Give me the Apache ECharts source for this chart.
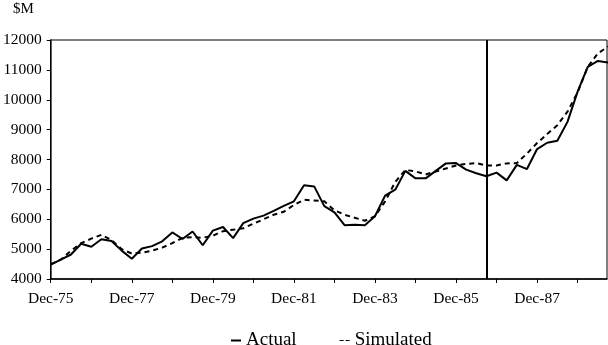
<!DOCTYPE html>
<html>
<head>
<meta charset="utf-8">
<script src="https://cdn.jsdelivr.net/npm/echarts@6/dist/echarts.min.js"></script>
<style>
html,body{margin:0;padding:0;background:#fff;}
#c{width:608px;height:345px;}
</style>
</head>
<body>
<div id="c"></div>
<script>
// Quarterly data, Dec-75 (index 0) onward
const actual = [4480,4650,4820,5180,5080,5330,5270,4950,4680,5020,5100,5260,5560,5340,5590,5130,
  5620,5740,5370,5870,6020,6120,6280,6450,6600,7140,7100,6440,6230,5800,5820,5800,
  6100,6790,6990,7620,7370,7370,7620,7870,7880,7660,7540,7440,7560,7300,7820,7680,
  8350,8560,8630,9260,10270,11100,11300,11250];
const simulated = [4500,4650,4950,5200,5350,5480,5300,5000,4850,4880,4950,5050,5200,5380,5400,5380,
  5450,5600,5650,5700,5850,6000,6150,6250,6480,6650,6630,6600,6300,6150,6050,5950,
  6100,6600,7250,7650,7600,7500,7600,7700,7800,7850,7880,7800,7800,7870,7880,8200,
  8550,8850,9150,9600,10250,11100,11550,11780];
const tickLabels = ['Dec-75','Dec-77','Dec-79','Dec-81','Dec-83','Dec-85','Dec-87'];
const breakQuarter = 43; // Sep-86
const seriesNames = ['Actual','Simulated'];

const toXY = arr => arr.map((v,i)=>[i,v]);
const serif = 'Liberation Serif';
const chart = echarts.init(document.getElementById('c'));
chart.setOption({
  animation:false,
  backgroundColor:'#fff',
  grid:{left:50,right:1,top:40,bottom:66,show:true,borderColor:'#000',borderWidth:1},
  graphic:[{type:'text',left:13,top:2,style:{text:'$M',font:'15px "Liberation Serif"',fill:'#000'}}],
  legend:{
    top:326,left:226,itemGap:43,itemWidth:10,itemHeight:2,
    textStyle:{fontFamily:serif,fontSize:19,color:'#000'},
    data:[
      {name:seriesNames[0],icon:'rect'},
      {name:seriesNames[1],icon:'path://M0,0h4v1h-4z M6,0h4v1h-4z'}
    ]
  },
  xAxis:{
    type:'value',min:0,max:54.9,interval:4,
    axisLine:{lineStyle:{color:'#000',width:1.5}},
    axisTick:{show:true,length:4,lineStyle:{color:'#000',width:1}},
    splitLine:{show:false},
    axisLabel:{fontFamily:serif,fontSize:15.5,color:'#000',margin:12,showMaxLabel:false,
      formatter:v=> (v%8===0 ? (tickLabels[v/8]||'') : '')}
  },
  yAxis:{
    type:'value',min:4000,max:12000,interval:1000,
    axisLine:{show:true,lineStyle:{color:'#000',width:1.5}},
    axisTick:{show:true,length:4,lineStyle:{color:'#000'}},
    splitLine:{show:false},
    axisLabel:{fontFamily:serif,fontSize:15.5,color:'#000',margin:9,formatter:v=>String(v)}
  },
  series:[
    {name:seriesNames[0],type:'line',data:toXY(actual),symbol:'none',clip:true,
      lineStyle:{color:'#000',width:2},itemStyle:{color:'#000'},
      markLine:{silent:true,symbol:'none',label:{show:false},
        lineStyle:{color:'#000',width:2,type:'solid'},data:[{xAxis:breakQuarter}]}},
    {name:seriesNames[1],type:'line',data:toXY(simulated),symbol:'none',clip:true,
      lineStyle:{color:'#000',width:2,type:[5,4]},itemStyle:{color:'#000'}}
  ]
});
</script>
</body>
</html>
